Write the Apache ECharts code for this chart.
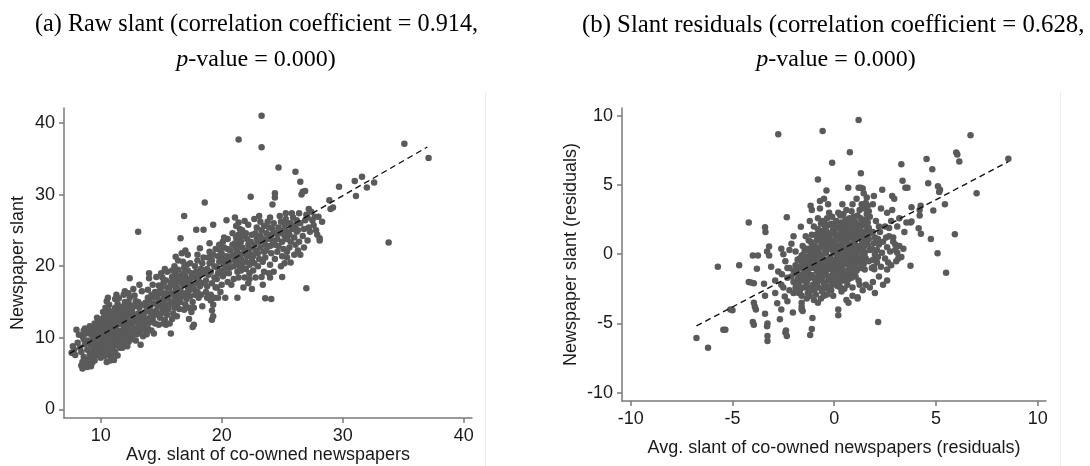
<!DOCTYPE html>
<html>
<head>
<meta charset="utf-8">
<script src="https://cdn.jsdelivr.net/npm/echarts@6/dist/echarts.min.js"></script>
<style>
html,body{margin:0;padding:0;background:#fff;}
#chart{width:1090px;height:466px;}
</style>
</head>
<body>
<div id="chart"></div>
<script>
// ---------- DATA ----------
const titleA1 = "(a) Raw slant (correlation coefficient = 0.914,";
const titleB1 = "(b) Slant residuals (correlation coefficient = 0.628,";
const titleP = "p";
const titleRest = "-value = 0.000)";
const xNameA = "Avg. slant of co-owned newspapers";
const yNameA = "Newspaper slant";
const xNameB = "Avg. slant of co-owned newspapers (residuals)";
const yNameB = "Newspaper slant (residuals)";

const ticksAX = [10, 20, 30, 40];
const ticksAY = [0, 10, 20, 30, 40];
const ticksBX = [-10, -5, 0, 5, 10];
const ticksBY = [-10, -5, 0, 5, 10];

const rawFitLine = [[7.44, 7.8], [37.0, 36.65]];
const residFitLine = [[-6.77, -5.18], [8.56, 6.69]];

const rawPoints = [
[7.6,7.9],[7.8,8.3],[7.9,7.6],[8.0,11.1],[8.1,9.3],[8.2,10.4],[8.3,8.6],[7.7,8.8],
[8.4,6.1],[8.5,5.7],[8.5,6.6],[8.6,7.3],[8.4,8.0],[8.7,9.1],[8.5,10.2],[8.6,11.0],[8.8,10.6],[8.9,5.9],[8.9,6.4],[8.8,7.0],[8.9,8.3],[9.0,9.6],[9.0,10.9],[8.7,11.3],[9.1,7.7],[9.0,6.2],[8.6,9.8],[9.1,11.6],
[9.2,6.0],[9.3,6.5],[9.2,7.2],[9.3,7.9],[9.4,8.5],[9.2,9.0],[9.3,9.5],[9.4,10.0],[9.2,10.5],[9.3,11.0],[9.4,11.5],[9.5,12.0],[9.5,6.8],[9.6,7.5],[9.6,8.2],[9.7,8.8],[9.5,9.3],[9.6,9.8],[9.7,10.3],[9.5,10.8],[9.6,11.3],[9.7,11.8],[9.8,12.3],[9.8,7.8],[9.8,9.1],[9.9,10.1],[9.9,11.0],[9.7,12.8],[9.9,8.4],[9.4,7.0],
[10.0,7.2],[10.1,7.7],[10.0,8.2],[10.2,8.6],[10.0,9.0],[10.1,9.4],[10.2,9.8],[10.0,10.2],[10.1,10.6],[10.2,11.0],[10.0,11.4],[10.1,11.8],[10.2,12.2],[10.1,12.6],[10.3,13.0],[10.3,7.4],[10.4,8.0],[10.3,8.9],[10.4,9.6],[10.3,10.4],[10.4,11.2],[10.5,12.0],[10.4,12.8],[10.5,13.5],[10.5,6.6],[10.6,7.6],[10.5,8.4],[10.6,9.2],[10.7,10.0],[10.6,10.8],[10.7,11.6],[10.6,12.4],[10.7,13.2],[10.6,14.0],[10.6,15.6],[10.5,15.1],[10.7,14.6],[10.4,14.2],[10.2,13.6],[10.7,8.8],
[10.8,6.8],[10.9,7.5],[10.8,8.2],[11.0,8.7],[10.9,9.2],[11.0,9.7],[10.8,10.2],[11.0,10.6],[10.9,11.0],[11.1,11.4],[10.9,11.8],[11.0,12.2],[11.1,12.6],[10.9,13.0],[11.0,13.4],[11.1,13.8],[11.2,14.2],[11.3,16.0],[11.2,15.4],[11.2,8.0],[11.3,8.9],[11.2,9.5],[11.3,10.1],[11.2,10.9],[11.3,11.7],[11.4,12.4],[11.3,13.1],[11.4,14.7],[11.5,9.2],[11.5,10.3],[11.4,11.0],[11.5,11.9],[11.6,12.8],[11.5,13.6],[11.6,8.6],[11.6,14.3],[11.4,7.5],[11.1,6.9],[11.6,10.8],[11.5,15.5],
[11.7,9.6],[11.8,10.2],[11.7,10.9],[11.9,11.4],[11.8,12.0],[11.7,12.6],[11.9,13.2],[11.8,13.8],[11.9,14.4],[12.0,15.0],[11.9,16.0],[12.0,9.1],[12.1,9.8],[12.0,10.5],[12.2,11.1],[12.1,11.8],[12.0,12.4],[12.2,13.0],[12.1,13.6],[12.2,14.2],[12.3,14.9],[12.4,18.3],[12.3,9.4],[12.4,10.4],[12.3,11.5],[12.4,12.2],[12.5,13.3],[12.4,15.6],[12.5,11.0],[12.5,14.5],[12.2,8.8],[12.0,16.5],[11.8,8.6],[12.5,9.8],[12.3,16.2],
[12.6,10.1],[12.7,10.8],[12.6,11.6],[12.8,12.3],[12.7,13.0],[12.6,13.7],[12.8,14.4],[12.9,15.1],[12.8,15.9],[12.9,9.6],[13.0,10.5],[13.0,11.3],[13.1,12.0],[13.0,12.7],[13.1,13.4],[13.2,14.2],[13.1,15.0],[13.1,24.8],[13.3,9.0],[13.3,10.9],[13.2,11.8],[13.4,12.6],[13.3,13.3],[13.4,14.6],[13.4,16.5],[13.5,11.4],[13.5,12.9],[13.2,17.4],[12.7,16.8],[13.5,10.2],
[13.6,12.0],[13.7,12.7],[13.6,13.5],[13.8,14.2],[13.7,14.9],[13.9,15.6],[13.8,10.5],[13.9,11.3],[14.0,12.1],[14.1,12.9],[14.0,13.7],[14.1,14.4],[14.0,15.2],[14.2,16.0],[14.0,19.0],[14.0,18.3],[14.2,11.0],[14.3,12.5],[14.3,13.6],[14.4,14.8],[14.4,15.7],[14.5,12.0],[14.5,16.4],[14.3,17.4],[13.7,11.1],[14.4,10.6],[13.9,16.7],[14.5,13.2],
[14.6,13.8],[14.7,14.5],[14.8,15.2],[14.7,15.9],[14.9,16.6],[14.8,17.3],[14.9,12.8],[15.0,13.4],[15.1,14.1],[15.0,14.8],[15.2,15.5],[15.1,16.2],[15.0,17.0],[15.2,17.7],[15.1,18.4],[15.3,12.5],[15.3,13.8],[15.4,14.6],[15.3,15.4],[15.4,16.2],[15.5,17.0],[15.4,18.0],[15.5,19.2],[15.3,19.6],[15.5,13.2],[15.4,11.8],[14.8,11.8],[15.2,12.0],[15.0,19.0],[14.6,18.5],
[15.6,14.0],[15.7,14.7],[15.6,15.5],[15.8,16.2],[15.7,17.0],[15.8,17.7],[15.9,18.5],[15.8,10.6],[15.9,12.6],[16.0,13.4],[16.1,14.2],[16.0,15.0],[16.1,15.8],[16.2,16.6],[16.0,17.4],[16.1,18.2],[16.2,19.0],[16.1,20.0],[16.2,21.3],[16.3,13.0],[16.3,14.6],[16.4,15.4],[16.3,17.0],[16.4,17.8],[16.5,18.6],[16.4,19.5],[16.5,14.0],[16.5,16.2],[16.4,20.8],[15.9,19.4],[16.6,23.9],[15.7,12.0],
[16.6,15.0],[16.7,15.8],[16.6,16.6],[16.8,17.4],[16.7,18.2],[16.8,19.0],[16.9,19.8],[16.8,20.6],[16.9,27.0],[16.9,13.9],[17.0,14.6],[17.1,15.4],[17.0,16.2],[17.2,17.0],[17.1,17.8],[17.0,18.6],[17.2,19.4],[17.1,20.2],[17.2,21.6],[17.3,12.6],[17.3,14.2],[17.4,15.8],[17.3,16.6],[17.4,18.2],[17.5,19.0],[17.4,20.4],[17.5,17.4],[16.7,21.8],[17.0,22.2],[17.5,13.6],
[17.6,11.5],[17.7,11.8],[17.6,15.0],[17.8,16.0],[17.7,16.8],[17.9,17.6],[17.8,18.4],[17.9,19.2],[17.8,20.0],[18.0,20.8],[17.9,25.1],[18.0,21.6],[18.1,15.6],[18.0,16.4],[18.2,17.2],[18.1,18.0],[18.2,18.8],[18.3,19.6],[18.2,22.5],[18.4,20.4],[18.3,16.0],[18.4,17.6],[18.5,19.0],[18.5,21.2],[18.6,28.9],[18.4,14.4],[17.7,14.2],[18.5,25.1],
[18.7,16.4],[18.8,17.2],[18.7,18.0],[18.9,18.8],[18.8,19.6],[19.0,20.4],[18.9,21.2],[19.0,22.0],[19.1,15.2],[19.1,16.0],[19.2,17.6],[19.1,19.2],[19.2,20.8],[19.3,21.6],[19.2,12.5],[19.3,13.0],[19.2,13.8],[19.3,14.6],[19.4,18.4],[19.4,20.0],[19.5,22.4],[19.3,25.8],[19.5,17.0],[18.8,15.6],[19.0,23.2],[19.4,15.6],
[19.6,18.2],[19.7,19.0],[19.6,19.8],[19.8,20.6],[19.7,21.4],[19.9,22.2],[19.8,23.0],[20.0,17.4],[20.1,18.6],[20.0,19.4],[20.2,20.2],[20.1,21.0],[20.0,21.8],[20.2,22.6],[20.1,23.4],[20.3,15.6],[20.3,19.0],[20.4,19.8],[20.3,20.6],[20.4,21.4],[20.5,22.4],[20.4,26.4],[20.5,17.8],[19.7,15.6],[20.5,23.8],[19.9,16.4],[20.2,24.0],[19.6,17.0],
[20.6,19.0],[20.7,19.8],[20.6,20.6],[20.8,21.4],[20.7,22.2],[20.9,23.0],[20.8,17.4],[21.0,18.2],[21.0,20.0],[21.1,20.8],[21.0,21.6],[21.2,22.4],[21.1,23.2],[21.2,24.0],[21.1,26.8],[21.3,19.2],[21.3,20.4],[21.4,21.2],[21.3,22.0],[21.4,22.8],[21.5,23.6],[21.4,24.4],[21.5,25.2],[21.4,26.1],[21.3,15.6],[21.5,19.8],[21.5,21.6],[21.2,25.6],[20.9,24.6],[21.4,18.4],[21.5,24.0],[21.4,37.7],
[21.6,19.4],[21.7,20.2],[21.6,21.0],[21.8,21.8],[21.7,22.6],[21.6,23.4],[21.8,24.2],[21.7,25.0],[21.9,18.4],[22.0,19.6],[22.0,20.6],[22.1,21.4],[22.0,22.2],[22.2,23.0],[22.1,23.8],[22.0,24.6],[22.2,17.6],[22.3,19.0],[22.3,20.2],[22.4,21.6],[22.3,22.4],[22.4,23.4],[22.5,24.4],[22.4,29.7],[22.5,16.8],[22.5,20.8],[21.8,17.0],[22.2,25.8],[21.9,26.3],[22.3,18.2],
[22.6,19.4],[22.7,20.4],[22.6,21.4],[22.8,22.2],[22.7,23.0],[22.9,23.8],[22.8,24.6],[22.9,25.4],[23.0,20.0],[23.1,21.0],[23.0,21.8],[23.2,22.6],[23.1,23.4],[23.2,24.2],[23.3,25.0],[23.2,26.2],[23.3,41.0],[23.3,36.6],[23.3,18.5],[23.4,17.4],[23.4,20.6],[23.5,22.0],[23.4,23.8],[23.5,25.6],[23.1,27.0],[22.8,18.4],[23.5,19.2],[22.7,26.6],
[23.6,21.2],[23.7,22.2],[23.6,23.0],[23.8,23.8],[23.7,24.6],[23.9,25.4],[23.8,26.2],[23.6,15.5],[24.0,18.4],[24.1,15.4],[24.0,20.2],[24.1,21.8],[24.0,22.8],[24.2,23.6],[24.1,24.4],[24.2,25.2],[24.0,26.8],[24.2,28.6],[24.4,30.2],[24.4,29.6],[24.3,19.2],[24.4,21.0],[24.4,23.0],[24.5,24.6],[23.9,19.0],[24.3,26.0],
[24.6,22.0],[24.7,22.8],[24.6,23.8],[24.8,24.6],[24.7,25.4],[24.9,26.2],[24.8,27.0],[24.7,33.8],[25.0,18.5],[25.0,21.4],[25.1,22.4],[25.0,23.4],[25.2,24.2],[25.1,25.0],[25.2,25.8],[25.3,26.6],[25.2,20.4],[25.4,22.0],[25.4,23.8],[25.5,24.8],[25.5,26.0],[25.3,27.4],[24.9,20.0],[25.4,21.2],
[25.6,22.6],[25.7,23.4],[25.6,24.4],[25.8,25.2],[25.7,26.0],[25.9,26.8],[25.8,27.4],[26.0,21.6],[26.1,23.0],[26.0,24.0],[26.2,24.8],[26.1,25.6],[26.2,26.4],[26.1,33.2],[26.3,22.2],[26.4,23.4],[26.3,25.0],[26.5,26.0],[26.5,31.8],[26.4,27.4],[25.7,20.5],[26.5,21.6],
[26.6,30.0],[26.7,30.4],[26.9,30.5],[26.7,24.2],[26.8,25.2],[26.9,26.4],[27.0,16.9],[27.0,27.2],[27.1,26.8],[27.2,25.4],[27.3,24.8],[27.1,23.6],[27.5,26.4],[27.6,25.7],[27.8,25.0],[27.7,26.9],[28.0,26.9],[28.3,26.2],[28.1,23.9],[28.1,23.6],[27.4,27.6],[26.8,22.6],[27.2,28.0],[27.9,24.4],
[28.9,29.2],[29.2,28.2],[29.0,28.0],[29.7,31.1],[31.0,31.9],[31.6,32.5],[31.1,29.8],[32.0,31.0],[32.6,31.7],[33.8,23.3],[35.1,37.1],[37.1,35.1]
];

const residPoints = [
[-2.1,-1.6],[-2.0,-1.2],[-1.9,-0.8],[-2.0,-2.0],[-1.9,-2.4],[-1.8,-0.4],[-1.8,-1.8],[-2.1,0.75],[-1.9,0.2],[-2.0,-2.8],[-1.85,-1.4],[-2.2,-1.0],
[-1.7,-2.7],[-1.6,-3.0],[-1.75,-2.2],[-1.6,-1.9],[-1.7,-1.5],[-1.5,-1.2],[-1.65,-0.9],[-1.5,-0.5],[-1.6,-0.1],[-1.45,0.3],[-1.55,0.6],[-1.64,1.98],[-1.5,-2.4],[-1.45,-1.7],[-1.7,-0.3],[-1.4,-0.9],[-1.6,-3.5],[-1.6,-3.8],[-1.6,-4.0],[-1.55,-4.1],[-1.7,-2.6],[-1.75,-2.8],
[-1.35,-3.2],[-1.3,-2.8],[-1.25,-2.4],[-1.35,-2.0],[-1.2,-1.7],[-1.3,-1.3],[-1.15,-1.0],[-1.25,-0.6],[-1.3,-0.2],[-1.2,0.2],[-1.1,0.6],[-1.25,1.0],[-1.1,1.4],[-1.16,3.5],[-1.1,3.2],[-1.0,-2.6],[-1.05,-2.2],[-1.1,-1.5],[-1.0,-0.8],[-1.05,-0.4],[-1.0,0.0],[-1.05,0.4],[-1.0,2.0],[-1.07,-4.6],[-1.1,-5.4],[-1.18,-5.83],[-1.3,-1.8],[-1.2,-3.0],[-1.0,-3.3],[-1.15,0.9],
[-0.9,-2.9],[-0.95,-2.5],[-0.85,-2.1],[-0.9,-1.7],[-0.8,-1.3],[-0.95,-1.0],[-0.85,-0.6],[-0.9,-0.2],[-0.8,0.2],[-0.95,0.6],[-0.85,1.0],[-0.9,1.4],[-0.8,1.8],[-0.8,-3.5],[-0.8,5.4],[-0.7,3.85],[-0.7,3.3],[-0.75,-2.4],[-0.7,-1.9],[-0.65,-1.5],[-0.75,-1.1],[-0.7,-0.7],[-0.65,-0.3],[-0.75,0.1],[-0.7,0.5],[-0.65,0.9],[-0.75,1.3],[-0.7,1.7],[-0.65,2.2],[-0.8,2.6],[-0.6,-2.7],[-0.65,-3.2],
[-0.55,-2.5],[-0.5,-2.1],[-0.6,-1.7],[-0.45,-1.3],[-0.55,-0.9],[-0.5,-0.5],[-0.6,-0.1],[-0.45,0.3],[-0.55,0.7],[-0.5,1.1],[-0.6,1.5],[-0.45,1.9],[-0.55,2.4],[-0.5,4.0],[-0.38,4.6],[-0.57,8.9],[-0.5,-3.0],[-0.35,-2.9],[-0.4,-2.3],[-0.3,-1.9],[-0.4,-1.5],[-0.3,-1.1],[-0.35,-0.7],[-0.25,-0.3],[-0.4,0.1],[-0.3,0.5],[-0.35,0.9],[-0.25,1.3],[-0.4,1.7],[-0.3,2.1],[-0.35,2.6],[-0.25,3.0],
[-0.15,-2.6],[-0.1,-2.2],[-0.2,-1.8],[-0.05,-1.4],[-0.15,-1.0],[-0.1,-0.6],[-0.2,-0.2],[-0.05,0.2],[-0.15,0.6],[-0.1,1.0],[-0.2,1.4],[-0.05,1.8],[-0.15,2.2],[-0.1,2.7],[-0.1,6.6],[0.0,-2.0],[0.05,-1.6],[0.1,-1.2],[0.0,-0.8],[0.05,-0.4],[0.1,0.0],[0.0,0.4],[0.05,0.8],[0.1,1.2],[0.0,1.6],[0.05,2.0],[0.1,2.4],[0.2,-4.0],[0.2,-4.4],[0.15,-2.3],[0.2,3.0],[-0.05,-3.0],
[0.25,-2.1],[0.3,-1.7],[0.2,-1.3],[0.35,-0.9],[0.25,-0.5],[0.3,-0.1],[0.2,0.3],[0.35,0.7],[0.25,1.1],[0.3,1.5],[0.2,1.9],[0.35,2.3],[0.36,-2.7],[0.45,-1.9],[0.5,-1.5],[0.4,-1.1],[0.55,-0.7],[0.45,-0.3],[0.5,0.1],[0.4,0.5],[0.55,0.9],[0.45,1.3],[0.5,1.7],[0.4,2.1],[0.55,2.5],[0.45,2.9],[0.5,-2.5],[0.3,2.8],[0.6,-3.3],[0.6,3.2],
[0.65,-2.2],[0.7,-1.8],[0.65,-1.4],[0.75,-1.0],[0.7,-0.6],[0.65,-0.2],[0.75,0.2],[0.7,0.6],[0.65,1.0],[0.75,1.4],[0.7,1.8],[0.65,2.2],[0.75,2.6],[0.69,4.8],[0.77,7.37],[0.7,-3.5],[0.85,-1.7],[0.9,-1.3],[0.8,-0.9],[0.95,-0.5],[0.85,-0.1],[0.9,0.3],[0.8,0.7],[0.95,1.1],[0.85,1.5],[0.9,1.9],[0.8,2.3],[0.95,2.7],[0.9,-2.4],[0.85,3.1],
[1.05,-1.6],[1.1,-1.2],[1.0,-0.8],[1.15,-0.4],[1.05,0.0],[1.1,0.4],[1.0,0.8],[1.15,1.2],[1.05,1.6],[1.1,2.0],[1.0,2.4],[1.15,2.8],[1.2,9.7],[1.15,-3.1],[1.15,-3.2],[1.25,-2.2],[1.3,-1.0],[1.25,-0.6],[1.35,-0.2],[1.3,0.2],[1.25,0.6],[1.35,1.0],[1.3,1.4],[1.25,1.8],[1.35,2.2],[1.3,2.6],[1.2,4.8],[1.3,4.8],[1.4,4.75],[1.31,5.85],[1.1,4.0],[1.25,3.2],[1.35,3.6],[1.2,-1.9],
[1.5,-1.1],[1.45,-0.7],[1.55,-0.3],[1.5,0.1],[1.45,0.5],[1.55,0.9],[1.5,1.3],[1.6,1.7],[1.5,2.1],[1.55,2.5],[1.6,2.9],[1.5,3.3],[1.55,3.7],[1.6,4.1],[1.55,-2.2],[1.75,-2.4],[1.7,-0.5],[1.75,0.3],[1.65,0.7],[1.7,1.1],[1.75,1.5],[1.7,1.9],[1.65,2.3],[1.75,2.7],[1.7,3.1],[1.65,3.5],[1.45,4.4],
[1.85,-1.0],[1.97,-1.08],[1.95,-0.9],[1.9,-0.4],[2.0,0.0],[1.85,0.4],[1.95,0.8],[2.0,1.2],[1.9,1.6],[2.1,-0.6],[2.15,-0.2],[2.1,0.3],[2.2,0.7],[2.15,1.1],[2.25,1.6],[2.2,2.0],[2.05,2.4],[1.9,3.6],[2.36,4.65],[2.16,-4.9],[2.3,-0.9],[2.35,0.1],[2.4,0.9],[1.95,4.2],[2.3,3.3],
[2.5,-0.3],[2.6,0.5],[2.55,1.2],[2.7,1.9],[2.8,2.4],[2.9,1.2],[2.75,0.2],[3.0,0.7],[2.85,3.2],[2.95,4.0],[2.85,4.2],[3.1,2.0],[3.2,2.6],[3.3,6.5],[3.36,5.3],[3.2,0.6],[3.05,-0.5],[3.3,-0.2],[3.4,0.4],[3.5,4.8],[3.6,4.8],[2.65,-0.6],[3.45,1.6],[3.55,2.3],
[2.5,2.0],[2.7,1.3],[2.9,0.9],[3.0,0.3],[3.1,0.1],[2.6,-1.1],[2.8,-0.8],[3.15,-0.3],
[3.75,-0.84],[3.8,3.4],[3.8,2.36],[3.75,2.3],[4.2,2.8],[4.2,3.2],[4.25,3.5],[4.15,1.88],[4.26,1.47],[4.54,6.87],[4.62,5.13],[4.82,6.14],[4.75,1.1],[4.87,3.16],[5.08,0.07],[5.1,4.9],[5.2,4.65],[5.16,4.5],[5.44,3.6],[5.5,-1.33],[5.93,1.45],[6.0,7.35],[6.05,7.2],[6.15,6.7],[6.7,8.6],[7.0,4.4],[8.56,6.9],
[-2.75,8.67],[-2.33,2.67],[-2.75,-1.25],[-2.6,-2.2],[-2.5,-2.4],[-2.57,-1.45],[-2.6,-4.0],[-2.67,-4.7],[-2.03,-4.2],[-2.43,-3.06],[-2.8,-3.54],[-2.33,-5.9],[-2.37,-5.5],[-2.4,-5.65],[-3.28,-5.9],[-3.28,-6.26],[-3.3,-5.2],[-3.28,-5.0],[-4.0,-4.9],[-3.95,-5.1],[-5.45,-5.45],[-5.35,-5.45],[-6.77,-6.05],[-6.2,-6.75],[-5.72,-0.9],[-4.67,-0.8],[-5.1,-4.0],[-5.0,-4.05],[-4.2,-2.0],[-4.1,-2.05],[-3.95,-2.1],[-4.2,2.3],[-3.4,1.95],[-3.38,1.6],[-4.0,-0.1],[-3.75,-0.1],[-3.8,-1.05],[-3.3,0.2],[-3.2,-0.1],[-3.1,-0.9],[-3.2,0.55],[-3.45,-2.14],[-3.95,-3.5],[-3.9,-3.8],[-3.85,-4.0],[-3.4,-4.3],[-3.4,-3.0],[-2.9,-1.9],[-2.3,-1.7],[-2.2,-2.6],[-2.4,-0.5],[-2.6,0.4],[-2.9,-2.8],[-2.3,-3.4],
[-1.8,-1.1],[-1.6,-0.6],[-1.4,-0.3],[-1.35,0.4],[-1.25,-1.0],[-1.4,-1.5],[-1.4,-2.3],[-1.2,-2.6],[-0.95,-1.8],[-0.85,-1.2],[-0.8,-0.4],[-0.9,0.4],[-0.85,1.2],[-0.6,-1.0],[-0.55,-0.3],[-0.5,0.5],[-0.6,0.9],[-0.45,1.4],[-0.2,-2.5],[-0.25,-1.6],[-0.2,-0.9],[-0.15,-0.4],[-0.25,0.4],[-0.2,0.9],[-0.1,1.6],[0.1,-1.8],[0.15,-0.9],[0.15,-0.1],[0.2,0.6],[0.1,1.4],[0.15,2.2],[0.35,-1.3],[0.4,-0.6],[0.35,0.2],[0.4,1.0],[0.35,1.8],[0.6,-1.2],[0.6,-0.4],[0.55,0.4],[0.6,1.3],[0.6,2.0],[0.85,-1.1],[0.8,-0.3],[0.85,0.5],[0.8,1.3],[0.85,2.0],[1.05,-1.0],[1.1,-0.2],[1.05,0.6],[1.1,1.4],[1.1,2.2],[1.3,-0.4],[1.3,0.4],[1.3,1.2],[1.3,2.0],[1.5,-0.2],[1.5,0.7],[1.5,1.6],[-1.2,-0.4],[-1.1,0.0],[-1.5,0.0],[-0.7,-1.3],[-0.9,-2.3],[-0.3,-2.5],[0.0,-1.2],[0.3,-2.4],[0.0,2.2],[-0.45,2.2],
[1.9,-2.0],[2.2,-1.6],[2.6,-1.9],[1.4,-2.6],[2.0,-2.8],[0.9,-3.0],[-2.3,-1.0],[-2.5,0.0],[-2.2,0.3],[-2.0,1.3],[-1.4,1.3],[-1.2,2.4],[-0.3,3.6],[0.4,3.6],[0.9,3.6],[2.6,3.0],[2.4,-2.2]
];

// ---------- CHART ----------
const chart = echarts.init(document.getElementById('chart'), null, {renderer: 'canvas'});
const axisGray = '#7a7a7a';
const labelColor = '#1a1a1a';
const dotColor = '#5a5a5a';
const sansFont = 'Liberation Sans, Arial, sans-serif';
const serifFont = 'Liberation Serif, Times New Roman, serif';

function makeAxis(idx, min, max, ticks, name, nameGap) {
  return {
    type: 'value', gridIndex: idx, min: min, max: max,
    name: name, nameLocation: 'middle', nameGap: nameGap, nameMoveOverlap: false,
    nameTextStyle: {fontFamily: sansFont, fontSize: 18, color: labelColor},
    axisLine: {show: true, onZero: false, lineStyle: {color: axisGray, width: 1.5}},
    axisTick: {show: true, length: 5, customValues: ticks, lineStyle: {color: axisGray, width: 1.5}},
    axisLabel: {customValues: ticks, margin: 9, fontFamily: sansFont, fontSize: 18, color: labelColor},
    splitLine: {show: false}
  };
}

function titleText(x, y, text, align, size) {
  return {type: 'text', x: x, y: y, silent: true,
    style: {text: text, fontFamily: serifFont, fontSize: size, fill: '#000', align: align, verticalAlign: 'middle'}};
}
function pLine(cx, y) {
  return {type: 'text', x: cx, y: y, silent: true,
    style: {
      text: '{i|' + titleP + '}{n|' + titleRest + '}',
      align: 'center', verticalAlign: 'middle',
      rich: {
        i: {fontFamily: serifFont, fontSize: 24, fontStyle: 'italic', fill: '#000'},
        n: {fontFamily: serifFont, fontSize: 24, fill: '#000'}
      }
    }};
}

const option = {
  animation: false,
  backgroundColor: '#fff',
  grid: [
    {left: 64, top: 108, width: 408, height: 310, outerBoundsMode: 'none', containLabel: false},
    {left: 622, top: 108, width: 424, height: 293, outerBoundsMode: 'none', containLabel: false}
  ],
  xAxis: [
    makeAxis(0, 6.97, 40.69, ticksAX, xNameA, 28),
    makeAxis(1, -10.43, 10.41, ticksBX, xNameB, 38)
  ],
  yAxis: [
    makeAxis(0, -1.22, 42.1, ticksAY, yNameA, 37),
    makeAxis(1, -10.6, 10.56, ticksBY, yNameB, 42)
  ],
  series: [
    {type: 'scatter', xAxisIndex: 0, yAxisIndex: 0, data: rawPoints, symbolSize: 6.5,
      itemStyle: {color: dotColor, opacity: 1}, silent: true},
    {type: 'line', xAxisIndex: 0, yAxisIndex: 0, data: rawFitLine, symbol: 'none', silent: true,
      lineStyle: {color: '#111', width: 1.4, type: [6, 4]}},
    {type: 'scatter', xAxisIndex: 1, yAxisIndex: 1, data: residPoints, symbolSize: 6.5,
      itemStyle: {color: dotColor, opacity: 1}, silent: true},
    {type: 'line', xAxisIndex: 1, yAxisIndex: 1, data: residFitLine, symbol: 'none', silent: true,
      lineStyle: {color: '#111', width: 1.4, type: [6, 4]}}
  ],
  graphic: [
    titleText(35, 25, titleA1, 'left', 24.2),
    pLine(256, 60),
    titleText(582, 25, titleB1, 'left', 24.8),
    pLine(836, 60),
    {type: 'line', silent: true, shape: {x1: 485.5, y1: 92, x2: 485.5, y2: 466}, style: {stroke: '#ececec', lineWidth: 1}},
    {type: 'line', silent: true, shape: {x1: 1060.5, y1: 92, x2: 1060.5, y2: 466}, style: {stroke: '#ececec', lineWidth: 1}}
  ]
};
chart.setOption(option);
</script>
</body>
</html>
